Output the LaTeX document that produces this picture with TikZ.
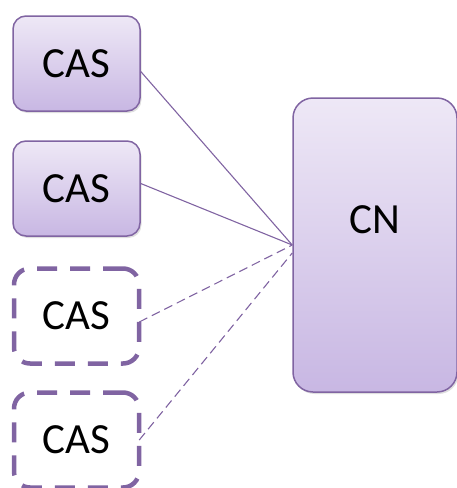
\documentclass[tikz,border=0pt]{standalone}
\usepackage{fontspec}
\setmainfont{Carlito}
\usetikzlibrary{shadows}
\definecolor{casline}{HTML}{8064A2}
\definecolor{castop}{HTML}{EEE8F6}
\definecolor{casbot}{HTML}{C8B7E3}

\begin{document}
\begin{tikzpicture}[x=1pt,y=-1pt,
  cas/.style={draw=casline,line width=1.5pt,rounded corners=13pt,
    top color=castop,bottom color=casbot,
    drop shadow={shadow xshift=1.5pt,shadow yshift=-2pt,opacity=0.25},
    minimum width=127pt,minimum height=95pt,font=\fontsize{43}{47}\selectfont},
  spare/.style={draw=casline,line width=4.5pt,dash pattern=on 20pt off 13pt,
    rounded corners=16pt,fill=white,
    minimum width=125pt,minimum height=95pt,font=\fontsize{43}{47}\selectfont},
  link/.style={casline,line width=1.1pt}]

  \useasboundingbox (0,0) rectangle (457,488);

  \draw (76.5,63.5) node[cas] (cas1) {CAS};
  \draw (76.5,188.5) node[cas] (cas2) {CAS};
  \draw (76.5,316) node[spare] (cas3) {CAS};
  \draw (76.5,440) node[spare] (cas4) {CAS};

  \draw (375,245) node[cas,minimum width=164pt,minimum height=294pt,
    rounded corners=20pt,
    label={[font=\fontsize{43}{47}\selectfont,yshift=25pt]center:CN}] (cn) {};

  \draw[link] ([yshift=-8pt]cas1.east) -- (cn.west);
  \draw[link] ([yshift=5pt]cas2.east) -- (cn.west);
  \draw[link,dash pattern=on 9pt off 5pt] ([yshift=-6pt,xshift=-2pt]cas3.east) -- (cn.west);
  \draw[link,dash pattern=on 9pt off 5pt] ([xshift=-2pt]cas4.east) -- ([yshift=-8pt]cn.west);

\end{tikzpicture}
\end{document}
